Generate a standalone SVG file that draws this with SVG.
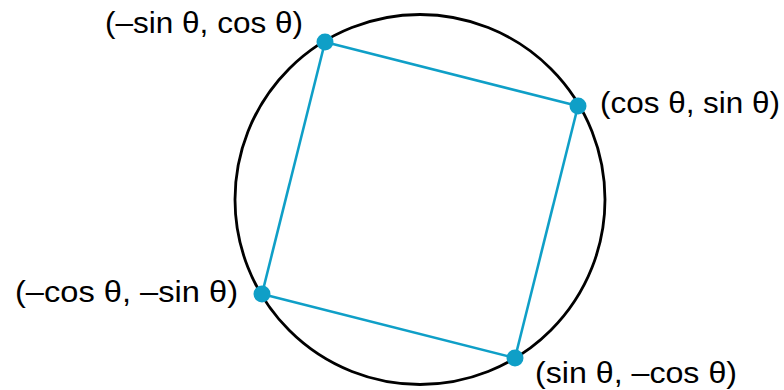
<svg xmlns="http://www.w3.org/2000/svg" width="784" height="390" viewBox="0 0 784 390">
<style>
.lbl{font-family:"Liberation Sans",Arial,sans-serif;font-size:30px;fill:#000}
.dot{fill:#0f9fc7}
.edge{stroke:#0f9fc7;stroke-width:2.6;fill:none}
</style>
<rect width="784" height="390" fill="#fff"/>
<circle id="circle" cx="420" cy="199.5" r="185" fill="none" stroke="#000" stroke-width="2.8"/>
<g id="connectors">
<line class="edge" x1="325" y1="42" x2="578" y2="106"/>
<line class="edge" x1="578" y1="106" x2="515" y2="358"/>
<line class="edge" x1="515" y1="358" x2="262" y2="294"/>
<line class="edge" x1="262" y1="294" x2="325" y2="42"/>
</g>
<g id="p1"><circle class="dot" cx="325" cy="42" r="8.5"/><text class="lbl" x="105" y="33" textLength="198" lengthAdjust="spacingAndGlyphs">(–sin θ, cos θ)</text></g>
<g id="p2"><circle class="dot" cx="578" cy="106" r="8.5"/><text class="lbl" x="600" y="113" textLength="180" lengthAdjust="spacingAndGlyphs">(cos θ, sin θ)</text></g>
<g id="p3"><circle class="dot" cx="515" cy="358" r="8.5"/><text class="lbl" x="535" y="383" textLength="202" lengthAdjust="spacingAndGlyphs">(sin θ, –cos θ)</text></g>
<g id="p4"><circle class="dot" cx="262" cy="294" r="8.5"/><text class="lbl" x="15" y="302" textLength="223" lengthAdjust="spacingAndGlyphs">(–cos θ, –sin θ)</text></g>
</svg>
